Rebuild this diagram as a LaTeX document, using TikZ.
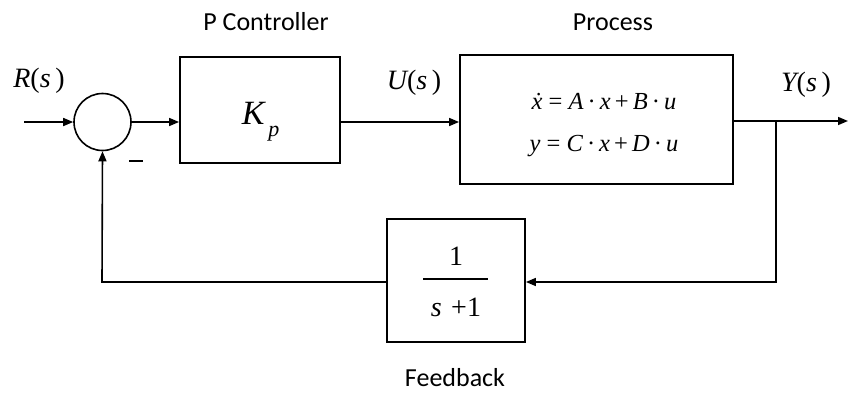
\documentclass[tikz,border=0pt]{standalone}
\usepackage{fontspec}
\setmainfont{Liberation Serif}
\newfontfamily\labfont{Carlito}
\usetikzlibrary{arrows.meta,calc}
\begin{document}
\begin{tikzpicture}[x=1pt,y=-1pt,
  line width=1.6pt,
  blk/.style={draw, line width=1.8pt, minimum width=#1, inner sep=0pt},
  tip/.style={-{Triangle[length=10pt,width=8pt]}},
  lab/.style={font=\labfont\fontsize{26}{30}\selectfont, inner sep=0pt},
  sig/.style={font=\fontsize{28}{32}\selectfont, inner sep=0pt}]
\useasboundingbox (0,0) rectangle (848,394);
% nodes
\node[circle, draw, line width=1.6pt, minimum size=57pt, inner sep=0pt] (sum) at (102.5,122) {};
\node[blk=160pt, minimum height=106pt] (pc) at (260,110) {};
\node[blk=273pt, minimum height=129pt] (proc) at (596.5,119.5) {};
\node[blk=138pt, minimum height=123pt] (fb) at (456,280.5) {};
\coordinate (in) at (24,122);
\coordinate (out) at (848,121);
\coordinate (br) at (776,121);
\coordinate (brd) at (776,282);
\coordinate (fbl) at (102,282);
% texts
\node[lab] (t1) at (266,22) {P Controller};
\node[lab] (t2) at (613,22) {Process};
\node[lab] (t3) at (455,378) {Feedback};
\node[sig] (r) at (39,81) {\itshape R\upshape(\itshape s\upshape\,)};
\node[sig] (u) at (414,83) {\itshape U\upshape(\itshape s\upshape\,)};
\node[sig] (y) at (806,85) {\itshape Y\upshape(\itshape s\upshape\,)};
\node[font=\fontsize{34}{38}\selectfont, inner sep=0pt, anchor=base west] (k) at (241,124) {\itshape K\hspace{4pt}\raisebox{-12pt}{\fontsize{22}{24}\selectfont p}};
\node[font=\fontsize{24.5}{28}\selectfont, inner sep=0pt] (e1) at (604,102) {\itshape \.{x}\upshape\ = \itshape A\upshape\,·\,\itshape x\upshape\,+\,\itshape B\upshape\,·\,\itshape u};
\node[font=\fontsize{24.5}{28}\selectfont, inner sep=0pt] (e2) at (604,146) {\itshape y\upshape\ = \itshape C\upshape\,·\,\itshape x\upshape\,+\,\itshape D\upshape\,·\,\itshape u};
\node[font=\fontsize{28}{32}\selectfont, inner sep=0pt] (n1) at (456,256) {1};
\node[font=\fontsize{28}{32}\selectfont, inner sep=0pt] (d1) at (456,307) {\itshape s\upshape\,\,+1};
\draw[line width=1.2pt] ($(n1)+(-33,23)$) -- ($(n1)+(32,23)$);
\node[inner sep=0pt] (minus) at (136,161) {\rule{14pt}{1.4pt}};
% connectors
\draw[tip] (in) -- (sum.west);
\draw[tip] (sum.east) -- (sum.east -| pc.west);
\draw[tip] (pc.east |- 0,122) -- (proc.west |- 0,122);
\draw[tip] (proc.east |- out) -- (out);
\draw[tip] (br) -- (brd) -- (fb.east |- brd);
\draw[tip] (fb.west |- fbl) -- (fbl) -- (sum.south);
\end{tikzpicture}
\end{document}
